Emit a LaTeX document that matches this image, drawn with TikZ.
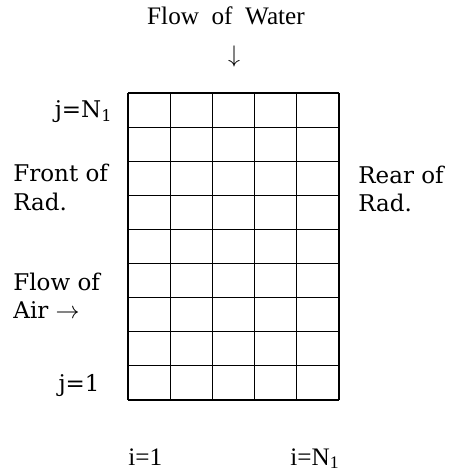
\documentclass[tikz,border=0pt]{standalone}
\usepackage{fontspec}
\setmainfont{Liberation Serif}
\newfontfamily\sidefont{DejaVu Serif}
\usetikzlibrary{positioning}

\begin{document}
\begin{tikzpicture}[
    x=0.5pt,
    y=-0.5pt,
    side/.style={font=\sidefont\fontsize{11.5}{14}\selectfont, inner sep=0pt},
    main/.style={font=\fontsize{12.6}{15}\selectfont, inner sep=0pt}
]
\useasboundingbox (0,0) rectangle (450,470);
% Grid of cells
\foreach \c in {0,...,5} {
    \draw[line width=0.6pt] (128+\c*42.2,93) -- (128+\c*42.2,400);
}
\foreach \r in {0,...,9} {
    \draw[line width=0.6pt] (128,93+\r*34.11) -- (339,93+\r*34.11);
}
% Water flow
\node[main, anchor=base] (water) at (226,25) {Flow~~of~~Water};
\node[main] (wdown) at (234,57) {$\downarrow$};
% Row labels
\node[side, anchor=base east] (jtop) at (113,118) {j=N\textsubscript{1}};
\node[side, anchor=base east] (jbot) at (100,391) {j=1};
% Sides of radiator
\node[side, anchor=base west] (front) at (13,182) {Front~of};
\node[side, anchor=base west] (frad) at (13,210) {Rad.};
\node[side, anchor=base west] (rear) at (358,184) {Rear~of};
\node[side, anchor=base west] (rrad) at (358,211) {Rad.};
% Air flow
\node[side, anchor=base west] (airflow) at (13,290) {Flow~of};
\node[side, anchor=base west] (air) at (13,318) {Air $\rightarrow$};
% Column labels
\node[main, anchor=base west] (ifirst) at (128,465) {i=1};
\node[main, anchor=base east] (ilast) at (340,465) {i=N\textsubscript{1}};
\end{tikzpicture}
\end{document}
